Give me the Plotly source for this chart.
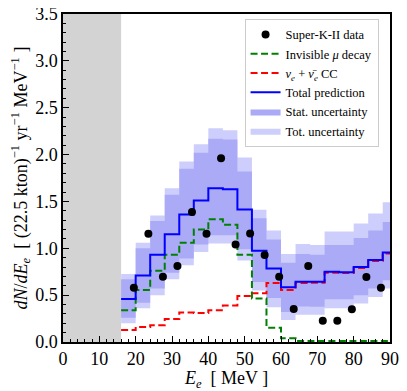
import plotly.graph_objects as go

# Bin edges (MeV)
bin_edges = [16, 20, 24, 28, 32, 36, 40, 44, 48, 52, 56, 60, 64, 68, 72, 76, 80, 84, 88, 90]

# Total prediction per bin
total_pred = [0.46, 0.71, 0.93, 1.15, 1.36, 1.51, 1.64, 1.63, 1.415, 0.975, 0.785, 0.583,
              0.643, 0.643, 0.75, 0.745, 0.80, 0.875, 0.955]
# Invisible mu decay per bin
inv_mu = [0.34, 0.556, 0.76, 0.93, 1.06, 1.20, 1.31, 1.25, 0.93, 0.465, 0.152, 0.04,
          0.012, 0.01, 0.01, 0.01, 0.01, 0.01, 0.01]
# nu_e + nubar_e CC per bin
nue_cc = [0.128, 0.16, 0.18, 0.245, 0.315, 0.31, 0.34, 0.39, 0.49, 0.52, 0.63, 0.555,
          0.63, 0.632, 0.74, 0.735, 0.79, 0.865, 0.945]
# Statistical uncertainty band
stat_hi = [0.67, 1.00, 1.29, 1.57, 1.85, 2.02, 2.17, 2.16, 1.82, 1.32, 1.095, 0.845,
           0.94, 0.93, 1.035, 1.035, 1.11, 1.19, 1.28]
stat_lo = [0.26, 0.42, 0.57, 0.74, 0.89, 1.04, 1.14, 1.14, 0.99, 0.64, 0.47, 0.32,
           0.38, 0.375, 0.455, 0.455, 0.50, 0.57, 0.66]
# Total uncertainty band
tot_hi = [0.725, 1.06, 1.35, 1.64, 1.925, 2.11, 2.28, 2.26, 1.97, 1.41, 1.19, 0.94,
          1.045, 1.035, 1.18, 1.18, 1.265, 1.37, 1.49]
tot_lo = [0.20, 0.36, 0.50, 0.67, 0.82, 0.96, 1.05, 1.05, 0.87, 0.55, 0.37, 0.235,
          0.29, 0.29, 0.36, 0.36, 0.41, 0.48, 0.57]

# Super-K-II data
data_E = [19.5, 23.5, 27.5, 31.5, 35.5, 39.5, 43.5, 47.5, 51.5, 55.5, 59.5, 63.5,
          67.5, 71.5, 75.5, 79.5, 83.5, 87.5]
data_N = [0.58, 1.155, 0.695, 0.81, 1.387, 1.155, 1.96, 1.04, 1.158, 0.928, 0.695, 0.352,
          0.81, 0.228, 0.228, 0.35, 0.693, 0.58]

x_tick_vals = [0, 10, 20, 30, 40, 50, 60, 70, 80, 90]
y_tick_vals = [0.0, 0.5, 1.0, 1.5, 2.0, 2.5, 3.0, 3.5]


def stepy(v):
    return list(v) + [v[-1]]


FONT = "Liberation Serif, Times New Roman, serif"
TOT_COL = "rgb(206,206,252)"
STAT_COL = "rgb(170,170,247)"

fig = go.Figure()

# Total uncertainty band
fig.add_trace(go.Scatter(x=bin_edges, y=stepy(tot_lo), mode="lines", line=dict(width=0, shape="hv"),
                         showlegend=False, hoverinfo="skip"))
fig.add_trace(go.Scatter(x=bin_edges, y=stepy(tot_hi), mode="lines", line=dict(width=0, shape="hv"),
                         fill="tonexty", fillcolor=TOT_COL, name="Tot. uncertainty", legendrank=6))
# Stat uncertainty band
fig.add_trace(go.Scatter(x=bin_edges, y=stepy(stat_lo), mode="lines", line=dict(width=0, shape="hv"),
                         showlegend=False, hoverinfo="skip"))
fig.add_trace(go.Scatter(x=bin_edges, y=stepy(stat_hi), mode="lines", line=dict(width=0, shape="hv"),
                         fill="tonexty", fillcolor=STAT_COL, name="Stat. uncertainty", legendrank=5))

fig.add_trace(go.Scatter(x=bin_edges, y=stepy(nue_cc), mode="lines",
                         line=dict(color="rgb(255,0,0)", width=2, dash="7px,3.5px", shape="hv"),
                         name="<i>ν<sub>e</sub></i> + <i>ν̄<sub>e</sub></i> CC", legendrank=3))
fig.add_trace(go.Scatter(x=bin_edges, y=stepy(inv_mu), mode="lines",
                         line=dict(color="rgb(0,128,0)", width=2, dash="7px,3.5px", shape="hv"),
                         name="Invisible <i>μ</i> decay", legendrank=2))
fig.add_trace(go.Scatter(x=bin_edges, y=stepy(total_pred), mode="lines",
                         line=dict(color="rgb(0,0,255)", width=2, shape="hv"),
                         name="Total prediction", legendrank=4))
fig.add_trace(go.Scatter(x=data_E, y=data_N, mode="markers",
                         marker=dict(color="black", size=8),
                         name="Super-K-II data", legendrank=1))

# Gray excluded region
fig.add_shape(type="rect", xref="x", yref="paper", x0=0, x1=16, y0=0, y1=1,
              fillcolor="rgb(211,211,211)", line=dict(width=0), layer="below")

axis_common = dict(showline=True, mirror=True, linecolor="black", linewidth=1.5,
                   ticks="inside", ticklen=6, tickwidth=1, tickcolor="black",
                   showgrid=False, zeroline=False, automargin=False,
                   ticklabeloverflow="allow",
                   tickfont=dict(family=FONT, size=18, color="black"))

fig.update_xaxes(range=[0, 90], tickvals=x_tick_vals,
                 minor=dict(ticks="inside", ticklen=3, dtick=2, tickcolor="black"),
                 title=dict(text="<i>E</i><sub><i>e</i></sub>  [ MeV ]",
                            font=dict(family=FONT, size=18, color="black"), standoff=2),
                 **axis_common)
fig.update_yaxes(range=[0, 3.5], tickvals=y_tick_vals, tickformat=".1f",
                 minor=dict(ticks="inside", ticklen=3, dtick=0.1, tickcolor="black"),
                 title=dict(text="<i>dN</i>/<i>dE</i><sub><i>e</i></sub>  [ (22.5 kton)<sup>−1</sup> yr<sup>−1</sup> MeV<sup>−1</sup> ]",
                            font=dict(family=FONT, size=18, color="black"), standoff=6),
                 **axis_common)

# The page body adds an 8px offset, so the figure is sized to fit the window
fig.update_layout(
    width=399, height=383,
    margin=dict(l=55, r=17, t=6, b=49),
    plot_bgcolor="white", paper_bgcolor="white",
    font=dict(family=FONT, color="black"),
    legend=dict(x=0.965, y=0.985, xanchor="right", yanchor="top",
                bgcolor="white", bordercolor="rgb(204,204,204)", borderwidth=1,
                font=dict(family=FONT, size=12.5, color="black"),
                tracegroupgap=0, itemwidth=30, traceorder="normal"),
)

fig.write_html("out.html")
